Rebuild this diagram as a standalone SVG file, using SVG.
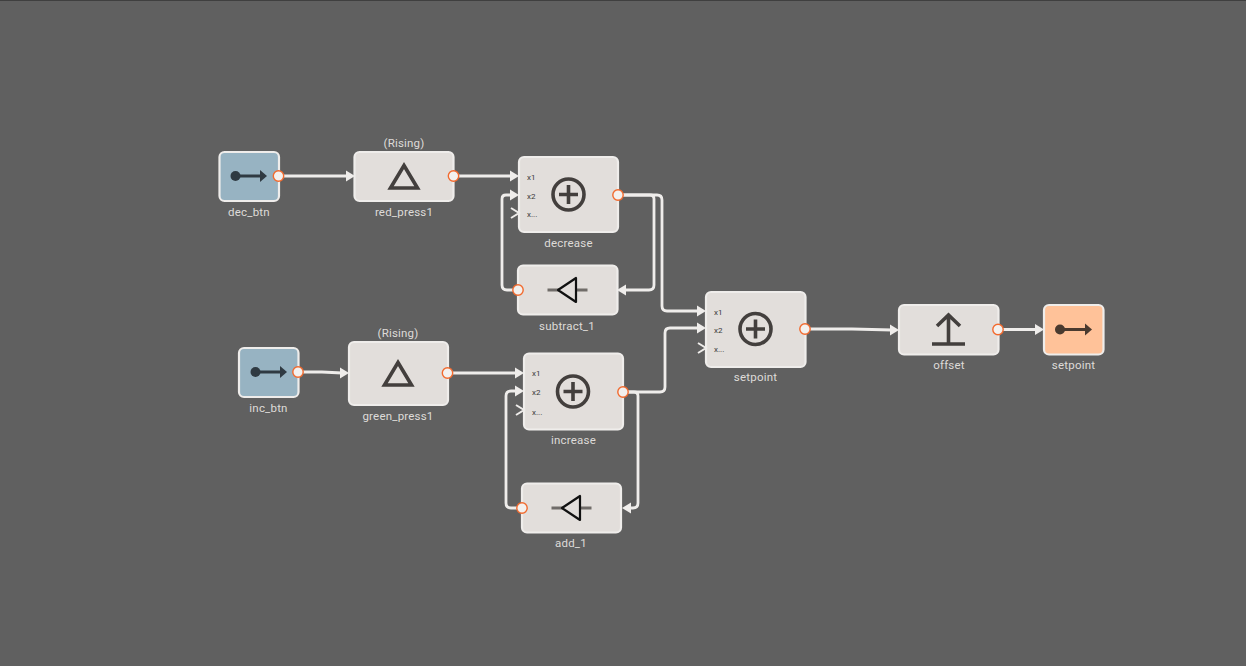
<svg xmlns="http://www.w3.org/2000/svg" width="1246" height="666" viewBox="0 0 1246 666">
<style>
.bg{fill:#606060}
.box{fill:#e2dedb;stroke:#efedeb;stroke-width:2.2}
.in{fill:#97b3c2}
.out{fill:#ffc299}
.lbl{font-family:Roboto,"Liberation Sans",sans-serif;font-size:11.5px;letter-spacing:0.2px;fill:#dedbd8;text-anchor:middle}
.port{font-family:Roboto,"Liberation Sans",sans-serif;font-size:8px;fill:#3a3a3a}
.wire{fill:none;stroke:#efedeb;stroke-width:2.8;stroke-linejoin:round}
.head{fill:#efedeb;stroke:none}
.chev{fill:none;stroke:#efedeb;stroke-width:2}
.dot{fill:#f3f1ef;stroke:#f26a2e;stroke-width:1.4}
.ico{fill:none;stroke:#433f3d;stroke-width:3.6}
.neg{fill:#e2dedb;stroke:#111;stroke-width:2.2;stroke-linejoin:round}
.negl{stroke:#706c69;stroke-width:2.8}
</style>
<defs>
<polygon id="h" class="head" points="-9,-5.500 0,0 -9,5.500"/>
<path id="chev" class="chev" d="M-8,-5 L0,0 L-8,5"/>
<circle id="d" class="dot" r="5.200"/>
<g id="plus"><circle class="ico" r="15.500"/><path class="ico" d="M-9.500,0H9.500M0,-9.500V9.500"/></g>
<g id="tri"><path class="ico" stroke-linejoin="miter" d="M0,-12.500 L13.500,10 H-13.500Z"/></g>
<g id="gain"><path class="negl" d="M-20,0H20"/><path class="neg" d="M-9.500,0 L8.500,-12 V12Z"/></g>
<g id="inarrow"><circle r="5" cx="-13.500" fill="#2f3a42"/><path d="M-13.500,0H12" stroke="#2f3a42" stroke-width="3"/><polygon points="11,-6 18,0 11,6" fill="#2f3a42"/></g>
</defs>
<rect class="bg" width="1246" height="666"/>
<path d="M0,0.5H1246" stroke="#3f3f3f" stroke-width="1"/>
<g id="connectors">
<path class="wire" d="M279,176H347"/><use href="#h" x="355" y="176"/>
<path class="wire" d="M454,176H512"/><use href="#h" x="519" y="176"/>
<path class="wire" d="M618,195H650Q654,195 654,199V285Q654,290 649,290H624"/><use href="#h" transform="translate(617,290) rotate(180)"/>
<path class="wire" d="M618,195H657Q662,195 662,200V306Q662,311 667,311H699"/><use href="#h" x="706" y="311"/>
<path class="wire" d="M518,290H507Q502,290 502,285V199Q502,195 506,195H512"/><use href="#h" x="519" y="195"/>
<path class="wire" d="M299,372H322L342,373"/><use href="#h" x="349" y="373"/>
<path class="wire" d="M448,373H517"/><use href="#h" x="524" y="373"/>
<path class="wire" d="M623,392H660Q665,392 665,387V333Q665,328 670,328H699"/><use href="#h" x="706" y="328"/>
<path class="wire" d="M623,392H634Q638,392 638,396V503Q638,508 633,508H628"/><use href="#h" transform="translate(622,508) rotate(180)"/>
<path class="wire" d="M522,508H511Q506,508 506,503V396Q506,391 511,391H517"/><use href="#h" x="524" y="391"/>
<path class="wire" d="M805,329H852L892,330"/><use href="#h" x="899" y="330"/>
<path class="wire" d="M998,329.500H1037"/><use href="#h" x="1044" y="329.500"/>
</g>
<g id="dec_btn"><rect class="box in" x="219.500" y="152" width="59.500" height="49" rx="5"/><use href="#inarrow" x="249" y="176"/><text class="lbl" x="249" y="216">dec_btn</text></g>
<g id="red_press1"><rect class="box" x="354.500" y="152" width="99" height="49" rx="5"/><use href="#tri" x="404" y="178"/><text class="lbl" x="404" y="147">(Rising)</text><text class="lbl" x="404" y="216">red_press1</text></g>
<g id="decrease"><rect class="box" x="519" y="157" width="99" height="75" rx="5"/><use href="#plus" x="568.500" y="194.500"/><text class="port" x="527" y="180">x1</text><text class="port" x="527" y="199">x2</text><text class="port" x="527" y="217">x...</text><use href="#chev" x="519" y="213"/><text class="lbl" x="568.500" y="247">decrease</text></g>
<g id="subtract_1"><rect class="box" x="518" y="265.500" width="99.500" height="49" rx="5"/><use href="#gain" x="567.500" y="290"/><text class="lbl" x="567" y="330">subtract_1</text></g>
<g id="inc_btn"><rect class="box in" x="239" y="348" width="59.500" height="49" rx="5"/><use href="#inarrow" x="269" y="372"/><text class="lbl" x="268.500" y="412">inc_btn</text></g>
<g id="green_press1"><rect class="box" x="349" y="342" width="99" height="63" rx="5"/><use href="#tri" x="398" y="375"/><text class="lbl" x="398" y="337">(Rising)</text><text class="lbl" x="398" y="420">green_press1</text></g>
<g id="increase"><rect class="box" x="524" y="353.500" width="99" height="76" rx="5"/><use href="#plus" x="573" y="391.500"/><text class="port" x="532" y="376">x1</text><text class="port" x="532" y="395">x2</text><text class="port" x="532" y="415">x...</text><use href="#chev" x="524" y="410"/><text class="lbl" x="573.500" y="444">increase</text></g>
<g id="add_1"><rect class="box" x="522" y="483.500" width="99" height="49" rx="5"/><use href="#gain" x="571.500" y="508"/><text class="lbl" x="571" y="547">add_1</text></g>
<g id="setpoint_sum"><rect class="box" x="706" y="292" width="99.500" height="75" rx="5"/><use href="#plus" x="755.500" y="329"/><text class="port" x="714" y="315">x1</text><text class="port" x="714" y="333">x2</text><text class="port" x="714" y="352">x...</text><use href="#chev" x="706" y="348"/><text class="lbl" x="755.500" y="381">setpoint</text></g>
<g id="offset"><rect class="box" x="899" y="305" width="99.500" height="49.500" rx="5"/><path class="ico" d="M932,344H965M948.500,344V315M937,326L948.500,315L960,326"/><text class="lbl" x="949" y="369">offset</text></g>
<g id="setpoint_out"><rect class="box out" x="1044" y="305" width="59.500" height="49.500" rx="5"/><circle cx="1060" cy="329.500" r="5" fill="#4a3a2f"/><path d="M1060,329.500H1086" stroke="#4a3a2f" stroke-width="3"/><polygon points="1085,323.500 1092,329.500 1085,335.500" fill="#4a3a2f"/><text class="lbl" x="1073.500" y="369">setpoint</text></g>
<g id="ports">
<use href="#d" x="278.500" y="176"/><use href="#d" x="453.500" y="176"/><use href="#d" x="618" y="195"/><use href="#d" x="518" y="290"/>
<use href="#d" x="298" y="372"/><use href="#d" x="447.500" y="373"/><use href="#d" x="623" y="392"/><use href="#d" x="522" y="508"/>
<use href="#d" x="805" y="329"/><use href="#d" x="998" y="329.500"/>
</g>
</svg>
